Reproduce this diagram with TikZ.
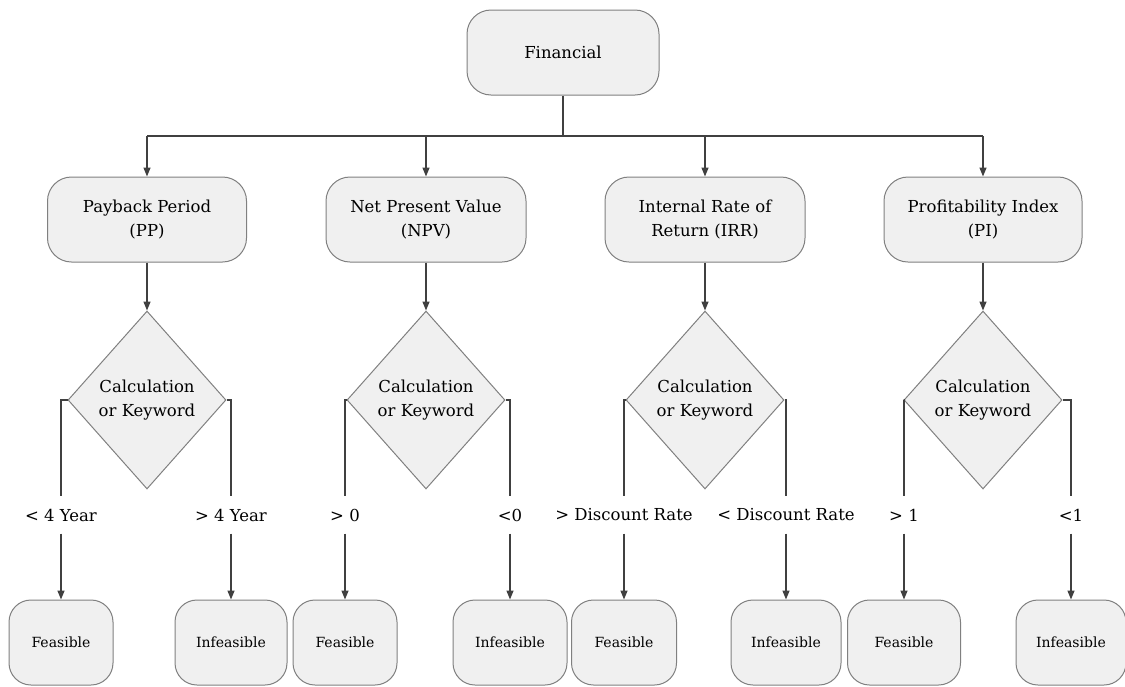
\documentclass[tikz,border=0pt]{standalone}
\usepackage{fontspec}
\setmainfont{DejaVu Serif}
\usetikzlibrary{shapes.geometric,arrows.meta}

\definecolor{boxfill}{HTML}{F0F0F0}
\definecolor{boxline}{HTML}{808080}
\definecolor{wire}{HTML}{404040}

\tikzset{
  rbox/.style={draw=boxline, line width=1pt, fill=boxfill, rounded corners=24pt,
    align=center, inner sep=0pt, font=\fontsize{16.5}{24}\selectfont},
  leafbox/.style={draw=boxline, line width=1pt, fill=boxfill, rounded corners=22pt,
    align=center, inner sep=0pt, minimum height=85pt, font=\fontsize{14}{20}\selectfont},
  decide/.style={diamond, draw=boxline, line width=1pt, fill=boxfill, align=center,
    inner sep=0pt, minimum width=158pt, minimum height=178pt, shape aspect=0.89,
    font=\fontsize{16.5}{24}\selectfont},
  cond/.style={inner sep=0pt, minimum height=37pt, font=\fontsize{16.5}{24}\selectfont},
  wireline/.style={draw=wire, line width=1.4pt},
  arrow/.style={wireline, -{Triangle[length=9pt,width=7pt]}},
}

\begin{document}
\begin{tikzpicture}[x=1pt,y=-1pt]
\useasboundingbox (0,0) rectangle (1125,686);

% root
\node[rbox, minimum width=192pt, minimum height=85pt] (fin) at (563,52.5) {Financial};

% methods
\node[rbox, minimum width=199pt, minimum height=85pt] (pp)  at (147,219.5) {Payback Period\\(PP)};
\node[rbox, minimum width=200pt, minimum height=85pt] (npv) at (426,219.5) {Net Present Value\\(NPV)};
\node[rbox, minimum width=200pt, minimum height=85pt] (irr) at (705,219.5) {Internal Rate of\\Return (IRR)};
\node[rbox, minimum width=198pt, minimum height=85pt] (pi)  at (983,219.5) {Profitability Index\\(PI)};

% decisions
\node[decide] (dpp)  at (147,400) {Calculation\\or Keyword};
\node[decide] (dnpv) at (426,400) {Calculation\\or Keyword};
\node[decide] (dirr) at (705,400) {Calculation\\or Keyword};
\node[decide] (dpi)  at (983,400) {Calculation\\or Keyword};

% branch conditions
\node[cond] (c1) at (61,515)   {< 4 Year};
\node[cond] (c2) at (231,515)  {> 4 Year};
\node[cond] (c3) at (345,515)  {> 0};
\node[cond] (c4) at (510,515)  {<0};
\node[cond] (c5) at (624,515)  {> Discount Rate};
\node[cond] (c6) at (786,515)  {< Discount Rate};
\node[cond] (c7) at (904,515)  {> 1};
\node[cond] (c8) at (1071,515) {<1};

% outcomes
\node[leafbox, minimum width=104pt] (f1) at (61,642.5)   {Feasible};
\node[leafbox, minimum width=112pt] (i1) at (231,642.5)  {Infeasible};
\node[leafbox, minimum width=104pt] (f2) at (345,642.5)  {Feasible};
\node[leafbox, minimum width=114pt] (i2) at (510,642.5)  {Infeasible};
\node[leafbox, minimum width=105pt] (f3) at (624,642.5)  {Feasible};
\node[leafbox, minimum width=110pt] (i3) at (786,642.5)  {Infeasible};
\node[leafbox, minimum width=113pt] (f4) at (904,642.5)  {Feasible};
\node[leafbox, minimum width=110pt] (i4) at (1071,642.5) {Infeasible};

% bus from the root to the four methods
\coordinate (busL) at (147,136);
\coordinate (busR) at (983,136);
\draw[wireline] (fin.south) -- (fin.south |- busL);
\draw[wireline] (busL) -- (busR);
\foreach \m in {pp,npv,irr,pi}
  \draw[arrow] (\m.north |- busL) -- (\m.north);

% method to decision
\draw[arrow] (pp.south)  -- (dpp.north);
\draw[arrow] (npv.south) -- (dnpv.north);
\draw[arrow] (irr.south) -- (dirr.north);
\draw[arrow] (pi.south)  -- (dpi.north);

% decision branches
\draw[wireline] (dpp.west)  -| (c1.north);
\draw[wireline] (dpp.east)  -| (c2.north);
\draw[wireline] (dnpv.west) -| (c3.north);
\draw[wireline] (dnpv.east) -| (c4.north);
\draw[wireline] (dirr.west) -| (c5.north);
\draw[wireline] (dirr.east) -| (c6.north);
\draw[wireline] (dpi.west)  -| (c7.north);
\draw[wireline] (dpi.east)  -| (c8.north);

% conditions to outcomes
\draw[arrow] (c1.south) -- (f1.north);
\draw[arrow] (c2.south) -- (i1.north);
\draw[arrow] (c3.south) -- (f2.north);
\draw[arrow] (c4.south) -- (i2.north);
\draw[arrow] (c5.south) -- (f3.north);
\draw[arrow] (c6.south) -- (i3.north);
\draw[arrow] (c7.south) -- (f4.north);
\draw[arrow] (c8.south) -- (i4.north);
\end{tikzpicture}
\end{document}
